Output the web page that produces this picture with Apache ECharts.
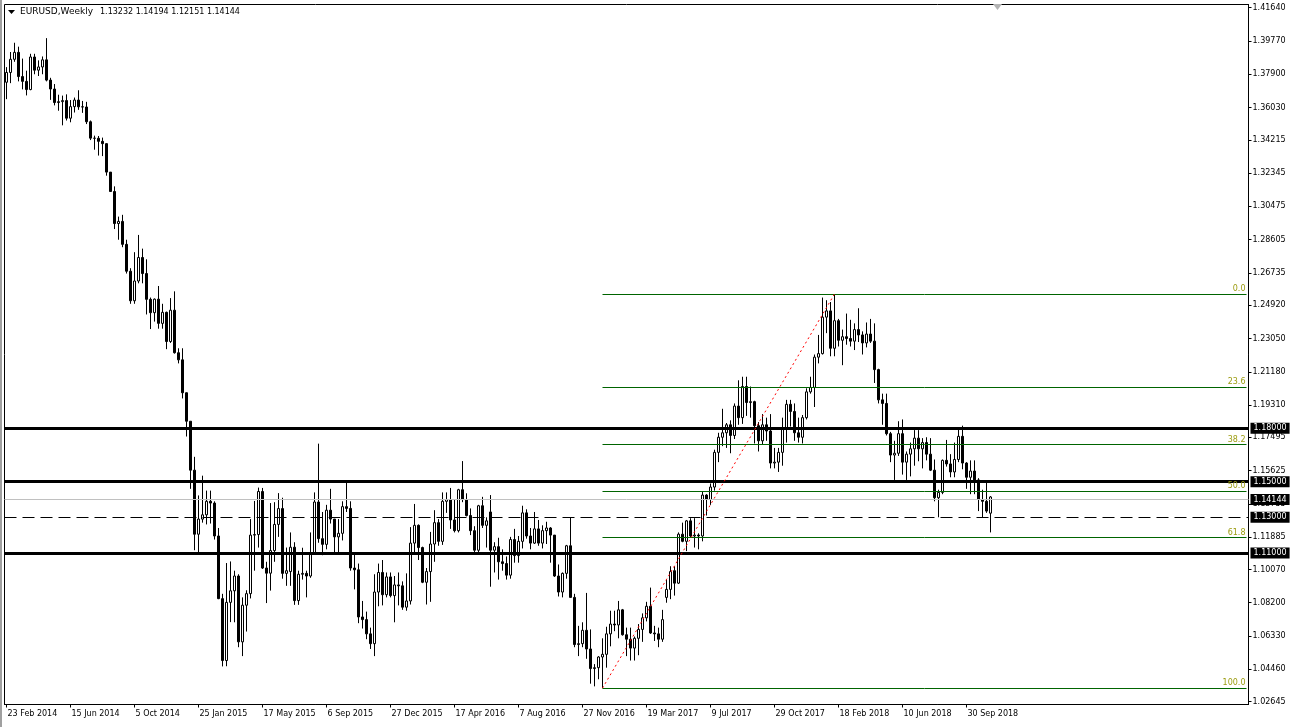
<!DOCTYPE html>
<html>
<head>
<meta charset="utf-8">
<title>EURUSD,Weekly</title>
<script src="https://cdn.jsdelivr.net/npm/echarts@6/dist/echarts.min.js"></script>
<style>
html, body { margin: 0; padding: 0; background: #fff; }
#chart { width: 1294px; height: 727px; }
</style>
</head>
<body>
<div id="chart"></div>
<script>
// weekly bars, one row per week: [open, close, low, high]
const bars2014 = [
  [1.3745,1.3800,1.3650,1.3830],[1.3800,1.3874,1.3740,1.3915],[1.3874,1.3913,1.3860,1.3967],[1.3913,1.3777,1.3750,1.3945],
  [1.3777,1.3750,1.3705,1.3878],[1.3750,1.3704,1.3671,1.3810],[1.3704,1.3887,1.3700,1.3905],[1.3887,1.3813,1.3790,1.3905],
  [1.3813,1.3831,1.3780,1.3868],[1.3831,1.3871,1.3790,1.3890],[1.3871,1.3757,1.3750,1.3993],[1.3757,1.3707,1.3646,1.3770],
  [1.3707,1.3631,1.3615,1.3735],[1.3631,1.3636,1.3585,1.3675],[1.3636,1.3642,1.3503,1.3670],[1.3642,1.3543,1.3530,1.3677],
  [1.3543,1.3608,1.3520,1.3645],[1.3608,1.3645,1.3575,1.3659],[1.3645,1.3607,1.3590,1.3700],[1.3607,1.3606,1.3573,1.3640],
  [1.3606,1.3523,1.3510,1.3635],[1.3523,1.3431,1.3420,1.3530],[1.3431,1.3430,1.3366,1.3445],[1.3430,1.3413,1.3333,1.3443],
  [1.3413,1.3400,1.3330,1.3434],[1.3400,1.3240,1.3220,1.3394],[1.3240,1.3131,1.3130,1.3240],[1.3131,1.2951,1.2920,1.3160],
  [1.2951,1.2963,1.2860,1.2990],[1.2963,1.2834,1.2818,1.3000],[1.2834,1.2683,1.2670,1.2860],[1.2683,1.2517,1.2500,1.2700],
  [1.2517,1.2628,1.2500,1.2790],[1.2628,1.2760,1.2615,1.2887],[1.2760,1.2670,1.2615,1.2810],[1.2670,1.2525,1.2440,1.2750],
  [1.2525,1.2450,1.2358,1.2535],[1.2450,1.2526,1.2400,1.2530],[1.2526,1.2390,1.2360,1.2600],[1.2390,1.2452,1.2360,1.2500],
  [1.2452,1.2288,1.2245,1.2456],[1.2288,1.2464,1.2280,1.2532],[1.2464,1.2225,1.2220,1.2570],[1.2225,1.2185,1.2165,1.2250],
  [1.2185,1.2000,1.1968,1.2250]
];
const bars2015 = [
  [1.2000,1.1840,1.1754,1.1970],[1.1840,1.1565,1.1460,1.1840],[1.1565,1.1205,1.1115,1.1640],[1.1205,1.1290,1.1098,1.1423],
  [1.1290,1.1314,1.1270,1.1534],[1.1314,1.1390,1.1260,1.1450],[1.1390,1.1380,1.1265,1.1450],[1.1380,1.1195,1.1175,1.1390],
  [1.1195,1.0843,1.0840,1.1240],[1.0843,1.0495,1.0462,1.0870],[1.0495,1.0822,1.0463,1.1043],[1.0822,1.0887,1.0711,1.1052],
  [1.0887,1.0970,1.0710,1.1000],[1.0970,1.0600,1.0570,1.0980],[1.0600,1.0806,1.0520,1.0850],[1.0806,1.0871,1.0658,1.0890],
  [1.0871,1.1200,1.0844,1.1290],[1.1200,1.1203,1.1000,1.1392],[1.1203,1.1445,1.1130,1.1467],[1.1445,1.1015,1.1010,1.1465],
  [1.1015,1.0986,1.0818,1.1050],[1.0986,1.1113,1.0888,1.1380],[1.1113,1.1260,1.1050,1.1385],[1.1260,1.1349,1.1190,1.1436],
  [1.1349,1.0985,1.0955,1.1410],[1.0985,1.1000,1.0915,1.1130],[1.0995,1.1132,1.0915,1.1215],[1.1132,1.0832,1.0808,1.1160],
  [1.0832,1.0980,1.0808,1.1000],[1.0980,1.0985,1.0950,1.1129],[1.0985,1.0970,1.0850,1.1000],[1.0970,1.1100,1.0960,1.1215],
  [1.1100,1.1386,1.1090,1.1440],[1.1386,1.1180,1.1157,1.1714],[1.1180,1.1148,1.1087,1.1330],[1.1148,1.1340,1.1120,1.1370],
  [1.1340,1.1290,1.1265,1.1460],[1.1290,1.1190,1.1105,1.1290],[1.1190,1.1210,1.1105,1.1290],[1.1210,1.1360,1.1170,1.1390],
  [1.1360,1.1350,1.1330,1.1495],[1.1350,1.1015,1.1000,1.1390],[1.1015,1.1005,1.0895,1.1095],[1.1005,1.0740,1.0705,1.1040],
  [1.0740,1.0725,1.0675,1.0830],[1.0725,1.0645,1.0615,1.0770],[1.0645,1.0590,1.0560,1.0680],[1.0590,1.0880,1.0520,1.0980],
  [1.0880,1.0990,1.0800,1.1040],[1.0990,1.0865,1.0805,1.1060],[1.0865,1.0965,1.0850,1.0990],[1.0965,1.0860,1.0850,1.0990]
];
const bars2016 = [
  [1.0860,1.0920,1.0710,1.0970],[1.0920,1.0915,1.0805,1.0990],[1.0915,1.0795,1.0780,1.0940],[1.0795,1.0830,1.0775,1.0985],
  [1.0830,1.1155,1.0810,1.1245],[1.1155,1.1255,1.1095,1.1375],[1.1255,1.1130,1.1060,1.1260],[1.1130,1.0935,1.0930,1.1135],
  [1.0935,1.0995,1.0810,1.1015],[1.0995,1.1150,1.0825,1.1218],[1.1150,1.1270,1.1050,1.1340],[1.1270,1.1165,1.1140,1.1290],
  [1.1165,1.1390,1.1145,1.1440],[1.1390,1.1400,1.1325,1.1440],[1.1400,1.1285,1.1235,1.1465],[1.1285,1.1225,1.1215,1.1400],
  [1.1225,1.1455,1.1215,1.1460],[1.1455,1.1400,1.1385,1.1616],[1.1400,1.1310,1.1305,1.1435],[1.1310,1.1225,1.1200,1.1350],
  [1.1225,1.1115,1.1095,1.1250],[1.1115,1.1365,1.1095,1.1370],[1.1365,1.1255,1.1240,1.1415],[1.1255,1.1280,1.1130,1.1300],
  [1.1330,1.1115,1.0910,1.1425],[1.1115,1.1135,1.0990,1.1160],[1.1135,1.1050,1.0950,1.1185],[1.1050,1.1040,1.1000,1.1120],
  [1.1040,1.0975,1.0950,1.1080],[1.0975,1.1175,1.0955,1.1190],[1.1175,1.1085,1.1045,1.1235],[1.1085,1.1165,1.1045,1.1195],
  [1.1165,1.1325,1.1125,1.1365],[1.1325,1.1195,1.1180,1.1345],[1.1195,1.1155,1.1120,1.1240],[1.1155,1.1235,1.1150,1.1330],
  [1.1235,1.1155,1.1140,1.1285],[1.1155,1.1225,1.1125,1.1255],[1.1225,1.1240,1.1150,1.1275],[1.1240,1.1200,1.1045,1.1245],
  [1.1200,1.0970,1.0965,1.1200],[1.0970,1.0880,1.0855,1.1035],[1.0880,1.0985,1.0850,1.0990],[1.0985,1.1140,1.0955,1.1145],
  [1.1140,1.0850,1.0850,1.1300],[1.0850,1.0585,1.0570,1.0870],[1.0585,1.0590,1.0520,1.0690],[1.0590,1.0665,1.0570,1.0710],
  [1.0665,1.0560,1.0505,1.0875],[1.0560,1.0450,1.0365,1.0670],[1.0450,1.0455,1.0350,1.0475],[1.0455,1.0515,1.0390,1.0520]
];
const bars2017 = [
  [1.0515,1.0530,1.0340,1.0620],[1.0530,1.0645,1.0455,1.0685],[1.0645,1.0700,1.0575,1.0775],[1.0700,1.0695,1.0660,1.0775],
  [1.0695,1.0780,1.0620,1.0830],[1.0780,1.0640,1.0635,1.0785],[1.0640,1.0615,1.0520,1.0680],[1.0615,1.0565,1.0495,1.0680],
  [1.0565,1.0620,1.0495,1.0630],[1.0620,1.0670,1.0525,1.0700],[1.0670,1.0735,1.0600,1.0760],[1.0735,1.0800,1.0715,1.0825],
  [1.0800,1.0650,1.0645,1.0905],[1.0650,1.0645,1.0605,1.0690],[1.0645,1.0615,1.0570,1.0680],[1.0615,1.0725,1.0600,1.0780],
  [1.0850,1.0895,1.0820,1.0950],[1.0895,1.0995,1.0840,1.1025],[1.1000,1.0930,1.0860,1.1025],[1.0930,1.1205,1.0925,1.1215],
  [1.1205,1.1165,1.1160,1.1270],[1.1165,1.1280,1.1110,1.1285],[1.1280,1.1195,1.1190,1.1295],[1.1195,1.1200,1.1130,1.1295],
  [1.1200,1.1195,1.1120,1.1210],[1.1195,1.1425,1.1165,1.1445],[1.1425,1.1400,1.1310,1.1430],[1.1400,1.1470,1.1370,1.1490],
  [1.1470,1.1665,1.1450,1.1680],[1.1665,1.1750,1.1610,1.1775],[1.1750,1.1775,1.1700,1.1910],[1.1775,1.1820,1.1690,1.1830],
  [1.1820,1.1760,1.1660,1.1845],[1.1760,1.1925,1.1740,1.1940],[1.1925,1.1860,1.1820,1.2070],[1.1860,1.2035,1.1825,1.2090],
  [1.2035,1.1945,1.1870,1.2090],[1.1945,1.1950,1.1860,1.2035],[1.1950,1.1815,1.1715,1.1955],[1.1815,1.1730,1.1670,1.1835],
  [1.1730,1.1820,1.1710,1.1880],[1.1820,1.1785,1.1730,1.1860],[1.1785,1.1605,1.1575,1.1880],[1.1605,1.1610,1.1575,1.1690],
  [1.1610,1.1665,1.1555,1.1690],[1.1665,1.1795,1.1590,1.1860],[1.1795,1.1935,1.1720,1.1960],[1.1935,1.1895,1.1810,1.1960],
  [1.1895,1.1775,1.1730,1.1940],[1.1775,1.1750,1.1720,1.1860],[1.1750,1.1860,1.1715,1.1875],[1.1860,1.2005,1.1850,1.2025]
];
const bars2018 = [
  [1.2005,1.2030,1.1995,1.2090],[1.2030,1.2200,1.1920,1.2215],[1.2200,1.2220,1.2165,1.2325],[1.2220,1.2425,1.2215,1.2535],
  [1.2425,1.2460,1.2335,1.2520],[1.2460,1.2250,1.2205,1.2510],[1.2250,1.2405,1.2205,1.2555],[1.2405,1.2295,1.2260,1.2415],
  [1.2295,1.2315,1.2155,1.2355],[1.2315,1.2305,1.2270,1.2445],[1.2305,1.2290,1.2260,1.2410],[1.2290,1.2355,1.2240,1.2390],
  [1.2355,1.2325,1.2285,1.2475],[1.2325,1.2280,1.2215,1.2345],[1.2280,1.2330,1.2255,1.2395],[1.2330,1.2290,1.2280,1.2415],
  [1.2290,1.2130,1.2055,1.2390],[1.2130,1.1960,1.1940,1.2135],[1.1960,1.1940,1.1820,1.1995],[1.1940,1.1770,1.1760,1.1995],
  [1.1770,1.1650,1.1610,1.1780],[1.1650,1.1660,1.1510,1.1730],[1.1660,1.1770,1.1645,1.1840],[1.1770,1.1610,1.1540,1.1850],
  [1.1610,1.1655,1.1510,1.1670],[1.1655,1.1685,1.1530,1.1720],[1.1685,1.1745,1.1590,1.1790],[1.1745,1.1685,1.1615,1.1790],
  [1.1685,1.1720,1.1575,1.1745],[1.1720,1.1655,1.1620,1.1750],[1.1655,1.1565,1.1560,1.1745],[1.1565,1.1410,1.1390,1.1625],
  [1.1410,1.1440,1.1300,1.1455],[1.1440,1.1620,1.1430,1.1625],[1.1620,1.1600,1.1585,1.1735],[1.1600,1.1555,1.1525,1.1655],
  [1.1555,1.1625,1.1525,1.1720],[1.1625,1.1755,1.1610,1.1800],[1.1755,1.1605,1.1570,1.1815],[1.1605,1.1525,1.1460,1.1610],
  [1.1525,1.1560,1.1430,1.1620],[1.1560,1.1510,1.1430,1.1620],[1.1510,1.1400,1.1335,1.1520],[1.1400,1.1390,1.1300,1.1455],
  [1.1390,1.1335,1.1325,1.1500],[1.13232,1.14144,1.12151,1.14194]
];

// price scale labels on the right
const priceTicks = [1.41640,1.39770,1.37900,1.36030,1.34215,1.32345,1.30475,1.28605,1.26735,1.24920,1.23050,
  1.21180,1.19310,1.17495,1.15625,1.13755,1.11885,1.10070,1.08200,1.06330,1.04460,1.02645];

// horizontal levels drawn on the chart
const thickLevels = [1.18000, 1.15000, 1.11000];
const dashedLevel = 1.13000;
const bidLevel = 1.14144;

// fibonacci retracement: swing low (bar 149) to swing high (bar 207)
const fibLow = 1.0340, fibHigh = 1.2555;
const fibLowBar = 149, fibHighBar = 207;
const fibRatios = [0, 23.6, 38.2, 50, 61.8, 100];

const firstWeek = Date.UTC(2014, 1, 23);
const totalSlots = 311;
const months = ['Jan','Feb','Mar','Apr','May','Jun','Jul','Aug','Sep','Oct','Nov','Dec'];

const bars = bars2014.concat(bars2015, bars2016, bars2017, bars2018);
const weeks = [];
for (let i = 0; i < totalSlots; i++) {
  if (i < bars.length) {
    const d = new Date(firstWeek + i * 7 * 86400000);
    weeks.push(d.getUTCDate() + ' ' + months[d.getUTCMonth()] + ' ' + d.getUTCFullYear());
  } else {
    weeks.push('');
  }
}

const FONT = 'DejaVu Sans';
const tag = {
  show: true, position: 'end', distance: 2,
  color: '#fff', backgroundColor: '#000', fontFamily: FONT, fontSize: 8,
  padding: [2, 3, 1, 3]
};

const levelLines = [];
thickLevels.forEach(v => {
  levelLines.push({ yAxis: v, lineStyle: { color: '#000', width: 3, type: 'solid' },
    label: Object.assign({}, tag, { formatter: v.toFixed(5) }) });
});
levelLines.push({ yAxis: dashedLevel, lineStyle: { color: '#000', width: 1, type: [12, 6] },
  label: Object.assign({}, tag, { formatter: dashedLevel.toFixed(5) }) });
levelLines.push({ yAxis: bidLevel, lineStyle: { color: '#c0c0c0', width: 1, type: 'solid' },
  label: Object.assign({}, tag, { formatter: bidLevel.toFixed(5) }) });

fibRatios.forEach(r => {
  const p = fibHigh - r / 100 * (fibHigh - fibLow);
  levelLines.push([
    { coord: [fibLowBar, p], lineStyle: { color: '#006400', width: 1, type: 'solid' },
      label: { show: true, position: 'insideEndTop', distance: 1, formatter: r.toFixed(1),
        color: '#9c9c10', fontFamily: FONT, fontSize: 8 } },
    { coord: [totalSlots - 1, p] }
  ]);
});
levelLines.push([
  { coord: [fibLowBar, fibLow], lineStyle: { color: '#ff0000', width: 1, type: [2, 3] }, label: { show: false } },
  { coord: [fibHighBar, fibHigh] }
]);

const chart = echarts.init(document.getElementById('chart'), null, { renderer: 'canvas' });
chart.setOption({
  animation: false,
  backgroundColor: '#fff',
  grid: { left: 4.5, right: 45.5, top: 4.5, bottom: 22.5, show: true, borderColor: '#000', borderWidth: 1, backgroundColor: '#fff' },
  xAxis: {
    type: 'category',
    data: weeks,
    boundaryGap: true,
    axisLine: { show: true, lineStyle: { color: '#000', width: 1 } },
    axisTick: { show: true, alignWithLabel: true, length: 3, lineStyle: { color: '#000' },
      interval: (i, v) => v !== '' && i % 16 === 0 },
    axisLabel: { color: '#000', fontFamily: FONT, fontSize: 8, align: 'left', margin: 5, padding: [0, 0, 0, 1],
      interval: (i, v) => v !== '' && i % 16 === 0 },
    splitLine: { show: false }
  },
  yAxis: {
    type: 'value',
    position: 'right',
    min: 1.0248,
    max: 1.4182,
    scale: true,
    axisLine: { show: true, lineStyle: { color: '#000', width: 1 } },
    axisTick: { show: true, length: 3, customValues: priceTicks, lineStyle: { color: '#000' } },
    axisLabel: { customValues: priceTicks, color: '#000', fontFamily: FONT, fontSize: 8, margin: 4,
      formatter: v => v.toFixed(5) },
    splitLine: { show: false }
  },
  series: [
    {
      type: 'candlestick',
      name: 'EURUSD',
      data: bars,
      barWidth: 2,
      itemStyle: { color: '#fff', color0: '#000', borderColor: '#000', borderColor0: '#000', borderWidth: 1 },
      emphasis: { disabled: true }
    },
    {
      type: 'line',
      name: 'levels',
      data: [],
      clip: false,
      z: 5,
      markLine: {
        silent: true,
        symbol: 'none',
        animation: false,
        emphasis: { disabled: true },
        data: levelLines
      }
    }
  ],
  graphic: [
    { type: 'rect', left: 0, top: 0, shape: { width: 2, height: 727 }, style: { fill: '#a0a0a0' } },
    { type: 'polygon', shape: { points: [[8, 10], [15, 10], [11.5, 14]] }, style: { fill: '#000' } },
    { type: 'text', x: 20, y: 12, style: { text: 'EURUSD,Weekly', fill: '#000', font: '9px "DejaVu Sans"', textVerticalAlign: 'middle' } },
    { type: 'text', x: 100, y: 12, style: { text: '1.13232 1.14194 1.12151 1.14144', fill: '#000', font: '8px "DejaVu Sans"', textVerticalAlign: 'middle' } },
    { type: 'polygon', shape: { points: [[993, 4], [1002, 4], [997.5, 10]] }, style: { fill: '#b4b4b4' } }
  ]
});
</script>
</body>
</html>
